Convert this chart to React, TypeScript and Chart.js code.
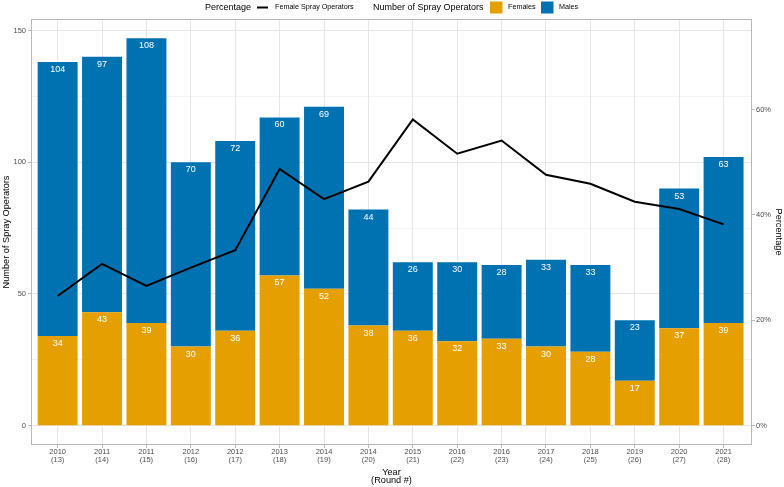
import React, { useEffect, useRef } from "react";
import { Chart, registerables } from "chart.js";

Chart.register(...registerables);

const years = ["2010", "2011", "2011", "2012", "2012", "2013", "2014", "2014", "2015", "2016", "2016", "2017", "2018", "2019", "2020", "2021"];
const rounds = ["13", "14", "15", "16", "17", "18", "19", "20", "21", "22", "23", "24", "25", "26", "27", "28"];
const females = [34, 43, 39, 30, 36, 57, 52, 38, 36, 32, 33, 30, 28, 17, 37, 39];
const males = [104, 97, 108, 70, 72, 60, 69, 44, 26, 30, 28, 33, 33, 23, 53, 63];
const femalePct = [24.6, 30.7, 26.5, 30.0, 33.3, 48.7, 43.0, 46.3, 58.1, 51.6, 54.1, 47.6, 45.9, 42.5, 41.1, 38.2];
const leftTicks = [0, 25, 50, 75, 100, 125, 150];
const rightTicks = [0, 20, 40, 60];

const FONT = '"Liberation Sans", Arial, Helvetica, sans-serif';
const ORANGE = "#E69F00";
const BLUE = "#0072B2";
const BORDER = "#B8B8B8";
const GRID = "#E6E6E6";
const TICK_TEXT = "#4D4D4D";

const labelPlugin = {
  id: "barLabels",
  afterDatasetsDraw(chart: any) {
    const ctx = chart.ctx;
    ctx.save();
    ctx.fillStyle = "#FFFFFF";
    ctx.font = `9px ${FONT}`;
    ctx.textAlign = "center";
    ctx.textBaseline = "middle";
    [0, 1].forEach((di) => {
      const meta = chart.getDatasetMeta(di);
      const vals = chart.data.datasets[di].data;
      meta.data.forEach((el: any, i: number) => {
        const v = vals[i].y;
        ctx.fillText(String(v), el.x, el.y + 7.5);
      });
    });
    ctx.restore();
  },
};

const framePlugin = {
  id: "frameAndLegend",
  afterDraw(chart: any) {
    const ctx = chart.ctx;
    const a = chart.chartArea;
    ctx.save();
    ctx.strokeStyle = BORDER;
    ctx.lineWidth = 1;
    ctx.strokeRect(Math.round(a.left) + 0.5, Math.round(a.top) + 0.5, Math.round(a.right - a.left) - 1, Math.round(a.bottom - a.top) - 1);

    // legend
    const cy = 7.5;
    ctx.textBaseline = "middle";
    ctx.textAlign = "left";
    ctx.fillStyle = "#000000";
    ctx.font = `9px ${FONT}`;
    ctx.fillText("Percentage", 205, cy);
    ctx.strokeStyle = "#000000";
    ctx.lineWidth = 2;
    ctx.beginPath();
    ctx.moveTo(257, cy);
    ctx.lineTo(268, cy);
    ctx.stroke();
    ctx.font = `7.2px ${FONT}`;
    ctx.fillText("Female Spray Operators", 275, cy);
    ctx.font = `9px ${FONT}`;
    ctx.fillText("Number of Spray Operators", 373, cy);
    ctx.fillStyle = ORANGE;
    ctx.fillRect(490, 1.5, 12.5, 12);
    ctx.fillStyle = "#000000";
    ctx.font = `7.2px ${FONT}`;
    ctx.fillText("Females", 508, cy);
    ctx.fillStyle = BLUE;
    ctx.fillRect(541, 1.5, 12.5, 12);
    ctx.fillStyle = "#000000";
    ctx.fillText("Males", 559, cy);
    ctx.restore();
  },
};

export default function App() {
  const ref = useRef<HTMLCanvasElement | null>(null);

  useEffect(() => {
    if (!ref.current) return;
    const idx = years.map((_, i) => i);
    const chart = new Chart(ref.current, {
      type: "bar",
      data: {
        datasets: [
          {
            type: "bar",
            label: "Females",
            data: idx.map((i) => ({ x: i, y: females[i] })),
            backgroundColor: ORANGE,
            borderWidth: 0,
            barPercentage: 0.9,
            categoryPercentage: 1,
            yAxisID: "y",
            order: 2,
          },
          {
            type: "bar",
            label: "Males",
            data: idx.map((i) => ({ x: i, y: males[i] })),
            backgroundColor: BLUE,
            borderWidth: 0,
            barPercentage: 0.9,
            categoryPercentage: 1,
            yAxisID: "y",
            order: 2,
          },
          {
            type: "line",
            label: "Female Spray Operators",
            data: idx.map((i) => ({ x: i, y: femalePct[i] })),
            borderColor: "#000000",
            borderWidth: 2,
            pointRadius: 0,
            tension: 0,
            fill: false,
            yAxisID: "y1",
            order: 1,
          } as any,
        ],
      },
      options: {
        responsive: false,
        animation: false,
        layout: { padding: { top: 19, left: 0, right: 0, bottom: 0 } },
        plugins: {
          legend: { display: false },
          tooltip: { enabled: false },
        },
        scales: {
          x: {
            type: "linear",
            stacked: true,
            offset: false,
            min: -0.6,
            max: 15.64,
            afterBuildTicks: (s: any) => {
              s.ticks = idx.map((v) => ({ value: v }));
            },
            afterFit: (s: any) => {
              s.height = 42;
            },
            ticks: {
              autoSkip: false,
              maxRotation: 0,
              padding: 0,
              color: TICK_TEXT,
              font: { family: FONT, size: 7.5, lineHeight: 1.06 },
              callback: (v: any) => {
                const i = Math.round(Number(v));
                return [years[i], `(${rounds[i]})`];
              },
            },
            grid: { offset: false, color: GRID, lineWidth: 1, tickLength: 3, tickColor: BORDER },
            border: { display: false },
            title: {
              display: true,
              text: ["Year", "(Round #)"],
              color: "#000000",
              font: { family: FONT, size: 9.2, lineHeight: 0.88 },
              padding: { top: 0, bottom: 2.5 },
            },
          },
          y: {
            type: "linear",
            position: "left",
            stacked: true,
            min: -7.35,
            max: 154.35,
            afterBuildTicks: (s: any) => {
              s.ticks = leftTicks.map((v) => ({ value: v }));
            },
            afterFit: (s: any) => {
              s.width = 31;
            },
            ticks: {
              padding: 2,
              color: TICK_TEXT,
              font: { family: FONT, size: 7.5 },
              callback: (v: any) => (Number(v) % 50 === 0 ? String(v) : ""),
            },
            grid: {
              color: GRID,
              lineWidth: (c: any) => (c.tick && c.tick.value % 50 === 0 ? 1 : 0.5),
              tickLength: 3,
              tickColor: (c: any) => (c.tick && c.tick.value % 50 === 0 ? BORDER : "rgba(0,0,0,0)"),
            },
            border: { display: false },
            title: {
              display: true,
              text: "Number of Spray Operators",
              color: "#000000",
              font: { family: FONT, size: 9.2 },
              padding: { top: 0.5, bottom: 0 },
            },
          },
          y1: {
            type: "linear",
            position: "right",
            min: -3.675,
            max: 77.175,
            afterBuildTicks: (s: any) => {
              s.ticks = rightTicks.map((v) => ({ value: v }));
            },
            afterFit: (s: any) => {
              s.width = 32;
            },
            ticks: {
              padding: 1,
              color: TICK_TEXT,
              font: { family: FONT, size: 7.5 },
              callback: (v: any) => `${v}%`,
            },
            grid: { drawOnChartArea: false, tickLength: 3, tickColor: BORDER, color: BORDER },
            border: { display: false },
            title: {
              display: true,
              text: "Percentage",
              color: "#000000",
              font: { family: FONT, size: 9.2 },
              padding: { top: 0, bottom: 0 },
            },
          },
        },
      } as any,
      plugins: [labelPlugin, framePlugin],
    });
    return () => chart.destroy();
  }, []);

  return (
    <div style={{ position: "absolute", left: 0, top: 0, width: 784, height: 487, background: "#FFFFFF" }}>
      <canvas ref={ref} width={784} height={487} />
    </div>
  );
}
